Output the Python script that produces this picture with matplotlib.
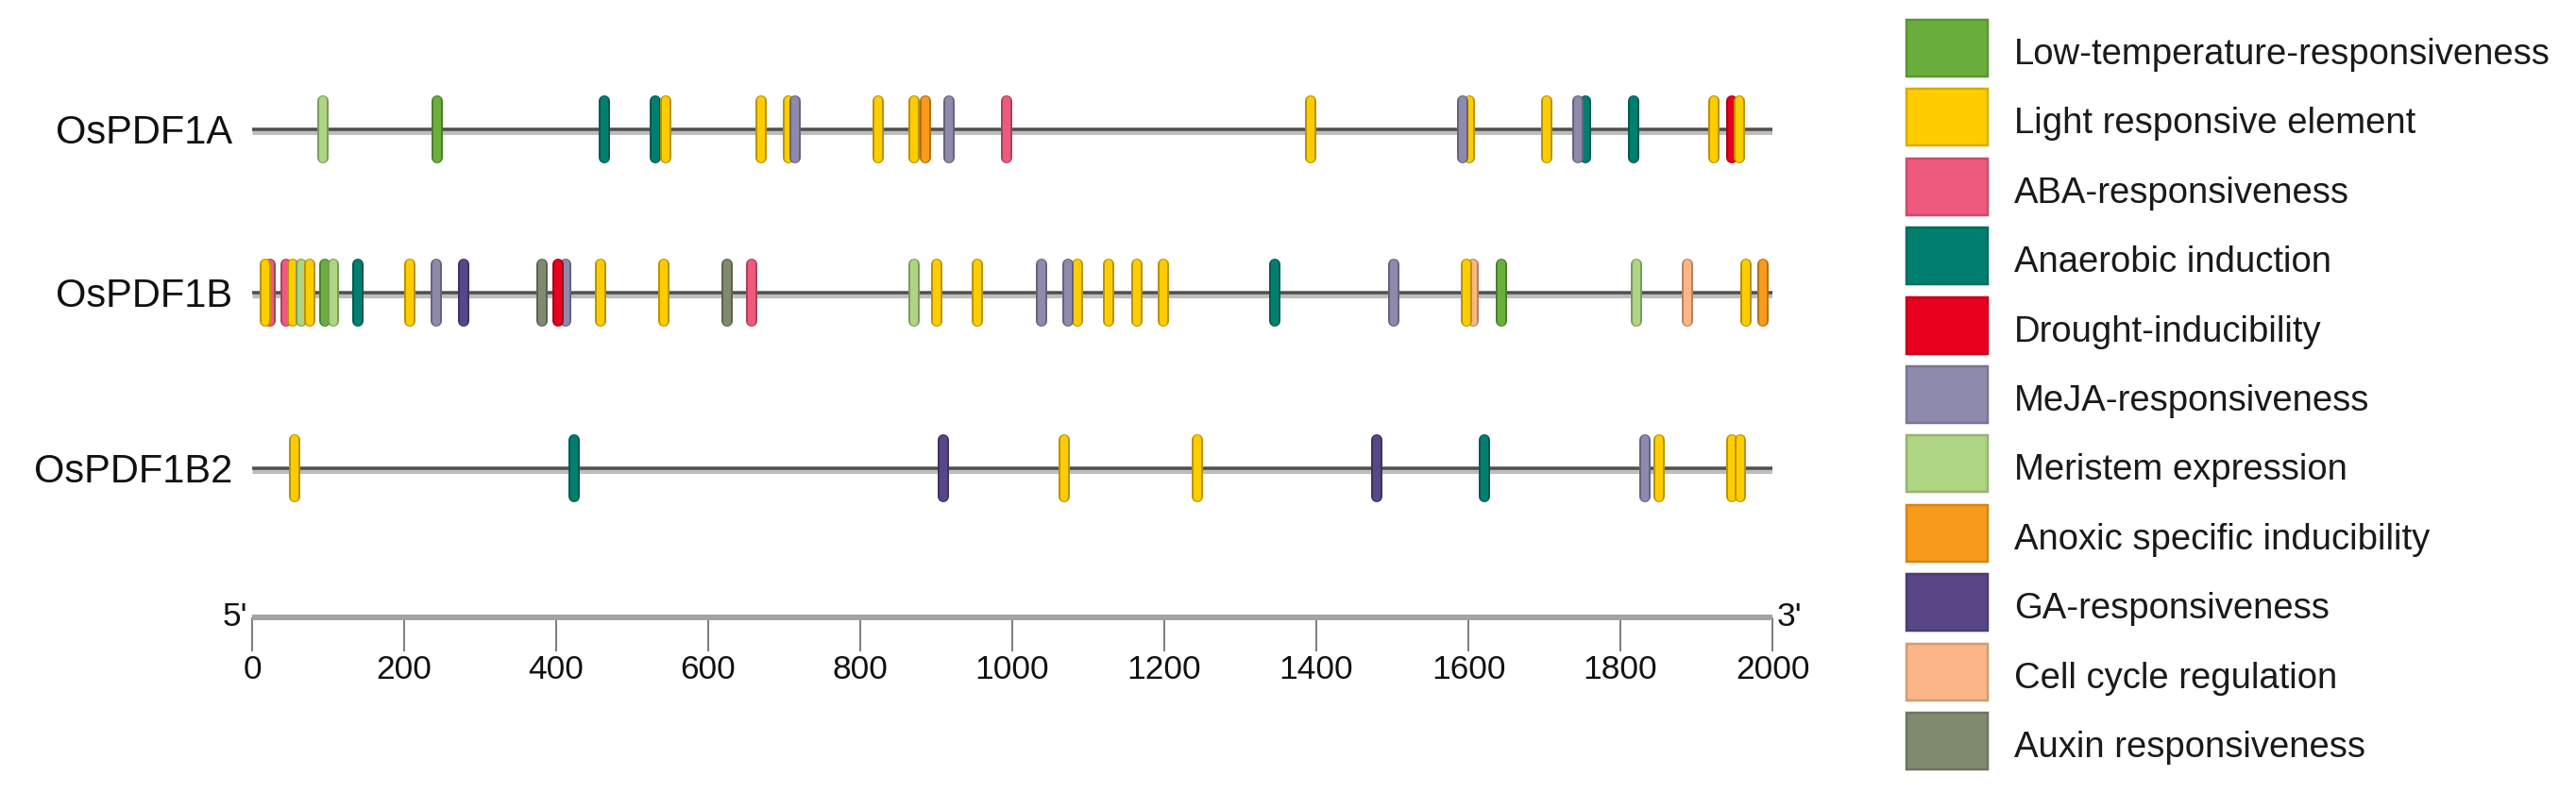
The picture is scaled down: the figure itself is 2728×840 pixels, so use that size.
import numpy as np
import matplotlib
matplotlib.use('Agg')
import matplotlib.pyplot as plt
from matplotlib.patches import Rectangle
from matplotlib.colors import to_rgb

plt.rcParams['font.family'] = ['Liberation Sans', 'DejaVu Sans']

# element categories and colours (legend order)
categories = ['Low-temperature-responsiveness', 'Light responsive element', 'ABA-responsiveness',
              'Anaerobic induction', 'Drought-inducibility', 'MeJA-responsiveness',
              'Meristem expression', 'Anoxic specific inducibility', 'GA-responsiveness',
              'Cell cycle regulation', 'Auxin responsiveness']
codes = ['LT', 'LR', 'ABA', 'AN', 'DR', 'ME', 'MS', 'AX', 'GA', 'CC', 'AU']
colors = ['#6AAF3D', '#FFCC00', '#EE5A7E', '#007F70', '#E8001E', '#8E8AAB',
          '#AED581', '#F89B1C', '#584686', '#FBB587', '#7F8A6E']

genes = ['OsPDF1A', 'OsPDF1B', 'OsPDF1B2']

# promoter positions (bp) and element type, in drawing order
pdf1a_pos = [93, 244, 463, 531, 544, 669, 706, 714, 824, 871, 886, 917, 992, 1393,
             1601, 1593, 1703, 1754, 1744, 1818, 1923, 1946, 1957]
pdf1a_type = ['MS', 'LT', 'AN', 'AN', 'LR', 'LR', 'LR', 'ME', 'LR', 'LR', 'AX', 'ME', 'ABA', 'LR',
              'LR', 'ME', 'LR', 'AN', 'ME', 'AN', 'LR', 'DR', 'LR']

pdf1b_pos = [24, 18, 45, 53, 64, 76, 96, 107, 139, 207, 242, 278, 381, 413, 403, 459, 541,
             625, 657, 871, 900, 954, 1038, 1086, 1073, 1127, 1164, 1199, 1345, 1502,
             1606, 1597, 1643, 1821, 1888, 1965, 1988]
pdf1b_type = ['ABA', 'LR', 'ABA', 'LR', 'MS', 'LR', 'LT', 'MS', 'AN', 'LR', 'ME', 'GA', 'AU', 'ME', 'DR', 'LR', 'LR',
              'AU', 'ABA', 'MS', 'LR', 'LR', 'ME', 'LR', 'ME', 'LR', 'LR', 'LR', 'AN', 'ME',
              'CC', 'LR', 'LT', 'MS', 'CC', 'LR', 'AX']

pdf1b2_pos = [56, 423, 909, 1068, 1243, 1480, 1621, 1832, 1851, 1946, 1958]
pdf1b2_type = ['LR', 'AN', 'GA', 'LR', 'LR', 'GA', 'AN', 'ME', 'LR', 'LR', 'LR']

scale_ticks = [0, 200, 400, 600, 800, 1000, 1200, 1400, 1600, 1800, 2000]
seq_len = 2000

W, H = 2728, 840
px = 72 / 100  # points per pixel at dpi 100
row_y = [137, 310, 496]
x0, x1 = 267, 1877

fig = plt.figure(figsize=(W / 100, H / 100), dpi=100)
ov = fig.add_axes([0, 0, 1, 1])
ov.set_xlim(0, W)
ov.set_ylim(H, 0)
ov.axis('off')

ax = fig.add_axes([x0 / W, 0, (x1 - x0) / W, 1])
ax.set_xlim(0, seq_len)
ax.set_ylim(H, 0)
ax.axis('off')
ax.patch.set_alpha(0)

col_of = dict(zip(codes, colors))


def darker(c, f=0.72):
    r, g, b = to_rgb(c)
    return (r * f, g * f, b * f)


tracks = [(pdf1a_pos, pdf1a_type), (pdf1b_pos, pdf1b_type), (pdf1b2_pos, pdf1b2_type)]
for i, (pos, typ) in enumerate(tracks):
    y = row_y[i]
    # gene line with a light shadow underneath
    ax.plot([0, seq_len], [y + 2.5, y + 2.5], color='#bdbdbd', lw=5 * px, solid_capstyle='butt', zorder=1)
    ax.plot([0, seq_len], [y - 0.5, y - 0.5], color='#4f4f4f', lw=3.5 * px, solid_capstyle='butt', zorder=2)
    ov.text(246, y + 15, genes[i], ha='right', va='baseline', fontsize=30, color='#111111')
    z = 3
    for p, t in zip(pos, typ):
        c = col_of[t]
        ax.plot([p, p], [y - 30, y + 30], color=darker(c), lw=12 * px, solid_capstyle='round',
                zorder=z, clip_on=False)
        ax.plot([p, p], [y - 31, y + 31], color=c, lw=8 * px, solid_capstyle='round',
                zorder=z + 0.5, clip_on=False)
        z += 1

# scale bar
sc = fig.add_axes([x0 / W, 1 - 654 / H, (x1 - x0) / W, 0.0001])
sc.set_xlim(0, seq_len)
sc.set_yticks([])
for s in ['left', 'right', 'top']:
    sc.spines[s].set_visible(False)
sc.spines['bottom'].set_linewidth(6 * px)
sc.spines['bottom'].set_color('#a3a3a3')
sc.spines['bottom'].set_capstyle('butt')
sc.patch.set_alpha(0)
sc.set_xticks(scale_ticks)
sc.set_xticklabels([str(v) for v in scale_ticks])
sc.tick_params(axis='x', direction='out', length=36 * px, width=1.5 * px, color='#555555',
               labelsize=25.5, pad=2, labelcolor='#111111')
ov.text(262, 663, "5'", ha='right', va='baseline', fontsize=25.5, color='#111111')
ov.text(1882, 663, "3'", ha='left', va='baseline', fontsize=25.5, color='#111111')

# legend
for k, (name, c) in enumerate(zip(categories, colors)):
    cy = 51 + k * 73.4
    ov.add_patch(Rectangle((2019, cy - 30), 86, 60, facecolor=c, edgecolor=darker(c, 0.85), lw=2.5 * px))
    ov.text(2133, cy + 17, name, ha='left', va='baseline', fontsize=27.5, color='#1a1a1a')

fig.savefig('out.png', dpi=100)
